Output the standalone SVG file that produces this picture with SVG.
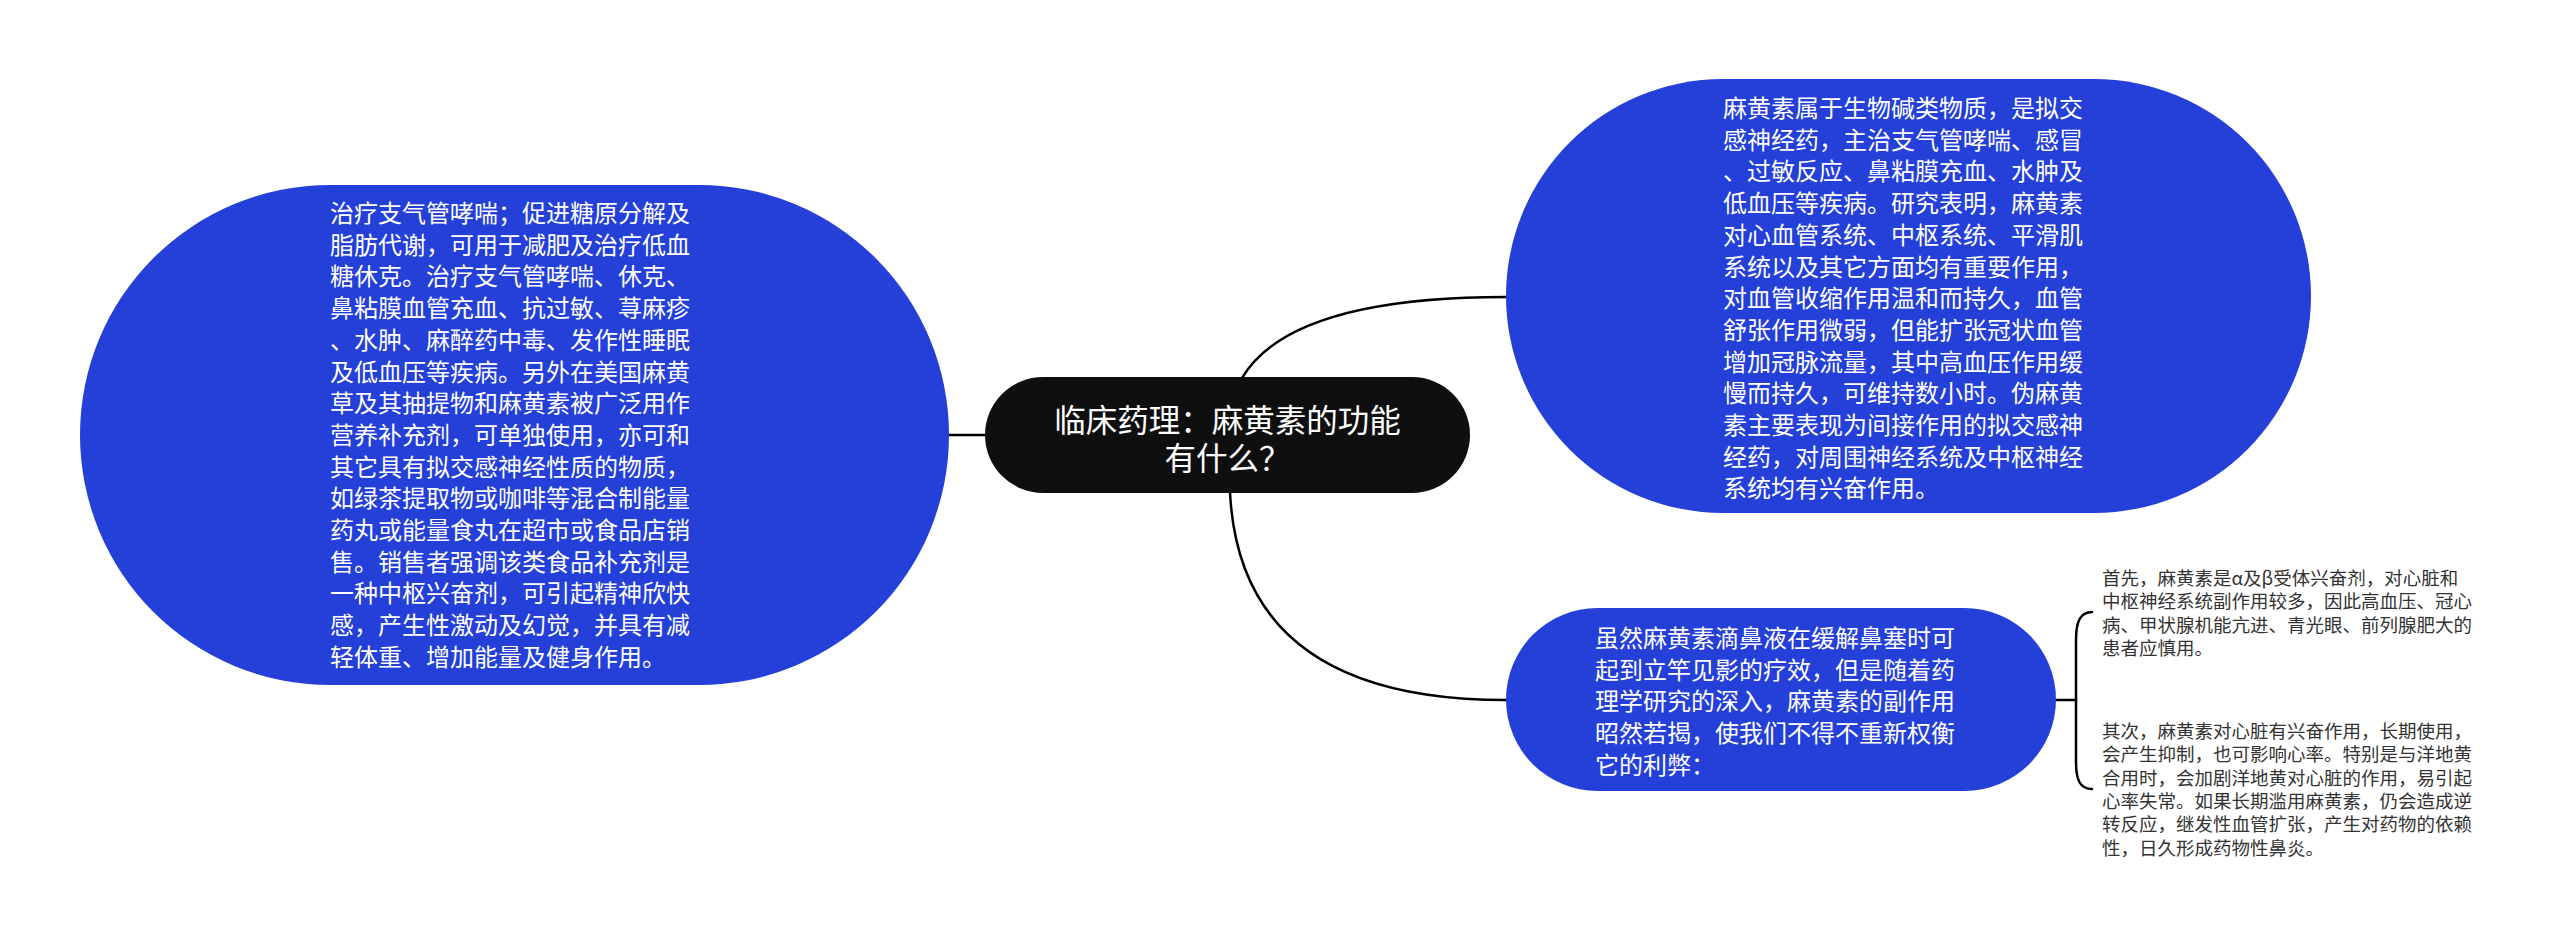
<svg xmlns="http://www.w3.org/2000/svg" width="2560" height="949" viewBox="0 0 2560 949">
<style>
.node{fill:#2440d8;}
.root{fill:#0f0f0f;}
.t{font-family:"Noto Sans CJK SC","Noto Sans",sans-serif;fill:#ffffff;font-size:24px;}
.tc{font-family:"Noto Sans CJK SC","Noto Sans",sans-serif;fill:#ffffff;font-size:31.5px;text-anchor:middle;}
.leaf{font-family:"Noto Sans CJK SC","Noto Sans",sans-serif;fill:#333333;font-size:18.5px;}
.edge{fill:none;stroke:#000000;stroke-width:2.5;stroke-linecap:round;}
</style>
<rect width="2560" height="949" fill="#ffffff"/>
<g id="connectors">
<path class="edge" d="M948,435 L986,435"/>
<path class="edge" d="M1242,378 Q1290,297 1506,297"/>
<path class="edge" d="M1230,492 Q1240,700 1506,700"/>
<path class="edge" d="M2056,700 L2076,700"/>
<path class="edge" d="M2092,612 C2080,612 2076,622 2076,640 L2076,762 C2076,780 2080,789 2092,789"/>
</g>
<g id="root">
<rect class="root" x="985" y="377" width="485" height="116" rx="58" ry="58"/>
<text class="tc" x="1227.5" y="432">临床药理：麻黄素的功能</text>
<text class="tc" x="1227.5" y="470">有什么？</text>
</g>
<g id="node-left">
<rect class="node" x="80" y="185" width="869" height="500" rx="250" ry="250"/>
<text class="t" x="330">
<tspan x="330" y="222">治疗支气管哮喘；促进糖原分解及</tspan>
<tspan x="330" y="253.7">脂肪代谢，可用于减肥及治疗低血</tspan>
<tspan x="330" y="285.4">糖休克。治疗支气管哮喘、休克、</tspan>
<tspan x="330" y="317.1">鼻粘膜血管充血、抗过敏、荨麻疹</tspan>
<tspan x="330" y="348.8">、水肿、麻醉药中毒、发作性睡眠</tspan>
<tspan x="330" y="380.5">及低血压等疾病。另外在美国麻黄</tspan>
<tspan x="330" y="412.2">草及其抽提物和麻黄素被广泛用作</tspan>
<tspan x="330" y="443.9">营养补充剂，可单独使用，亦可和</tspan>
<tspan x="330" y="475.6">其它具有拟交感神经性质的物质，</tspan>
<tspan x="330" y="507.3">如绿茶提取物或咖啡等混合制能量</tspan>
<tspan x="330" y="539">药丸或能量食丸在超市或食品店销</tspan>
<tspan x="330" y="570.7">售。销售者强调该类食品补充剂是</tspan>
<tspan x="330" y="602.4">一种中枢兴奋剂，可引起精神欣快</tspan>
<tspan x="330" y="634.1">感，产生性激动及幻觉，并具有减</tspan>
<tspan x="330" y="665.8">轻体重、增加能量及健身作用。</tspan>
</text>
</g>
<g id="node-top-right">
<rect class="node" x="1506" y="79" width="805" height="434" rx="217" ry="217"/>
<text class="t" x="1723">
<tspan x="1723" y="117">麻黄素属于生物碱类物质，是拟交</tspan>
<tspan x="1723" y="148.7">感神经药，主治支气管哮喘、感冒</tspan>
<tspan x="1723" y="180.4">、过敏反应、鼻粘膜充血、水肿及</tspan>
<tspan x="1723" y="212.1">低血压等疾病。研究表明，麻黄素</tspan>
<tspan x="1723" y="243.8">对心血管系统、中枢系统、平滑肌</tspan>
<tspan x="1723" y="275.5">系统以及其它方面均有重要作用，</tspan>
<tspan x="1723" y="307.2">对血管收缩作用温和而持久，血管</tspan>
<tspan x="1723" y="338.9">舒张作用微弱，但能扩张冠状血管</tspan>
<tspan x="1723" y="370.6">增加冠脉流量，其中高血压作用缓</tspan>
<tspan x="1723" y="402.3">慢而持久，可维持数小时。伪麻黄</tspan>
<tspan x="1723" y="434">素主要表现为间接作用的拟交感神</tspan>
<tspan x="1723" y="465.7">经药，对周围神经系统及中枢神经</tspan>
<tspan x="1723" y="497.4">系统均有兴奋作用。</tspan>
</text>
</g>
<g id="node-bottom-right">
<rect class="node" x="1506" y="608" width="550" height="183" rx="91.5" ry="91.5"/>
<text class="t" x="1595">
<tspan x="1595" y="647">虽然麻黄素滴鼻液在缓解鼻塞时可</tspan>
<tspan x="1595" y="678.7">起到立竿见影的疗效，但是随着药</tspan>
<tspan x="1595" y="710.4">理学研究的深入，麻黄素的副作用</tspan>
<tspan x="1595" y="742.1">昭然若揭，使我们不得不重新权衡</tspan>
<tspan x="1595" y="773.8">它的利弊：</tspan>
</text>
</g>
<g id="leaf-1">
<text class="leaf" x="2102">
<tspan x="2102" y="585">首先，麻黄素是α及β受体兴奋剂，对心脏和</tspan>
<tspan x="2102" y="608.3">中枢神经系统副作用较多，因此高血压、冠心</tspan>
<tspan x="2102" y="631.6">病、甲状腺机能亢进、青光眼、前列腺肥大的</tspan>
<tspan x="2102" y="654.9">患者应慎用。</tspan>
</text>
</g>
<g id="leaf-2">
<text class="leaf" x="2102">
<tspan x="2102" y="738">其次，麻黄素对心脏有兴奋作用，长期使用，</tspan>
<tspan x="2102" y="761.3">会产生抑制，也可影响心率。特别是与洋地黄</tspan>
<tspan x="2102" y="784.6">合用时，会加剧洋地黄对心脏的作用，易引起</tspan>
<tspan x="2102" y="807.9">心率失常。如果长期滥用麻黄素，仍会造成逆</tspan>
<tspan x="2102" y="831.2">转反应，继发性血管扩张，产生对药物的依赖</tspan>
<tspan x="2102" y="854.5">性，日久形成药物性鼻炎。</tspan>
</text>
</g>
</svg>
